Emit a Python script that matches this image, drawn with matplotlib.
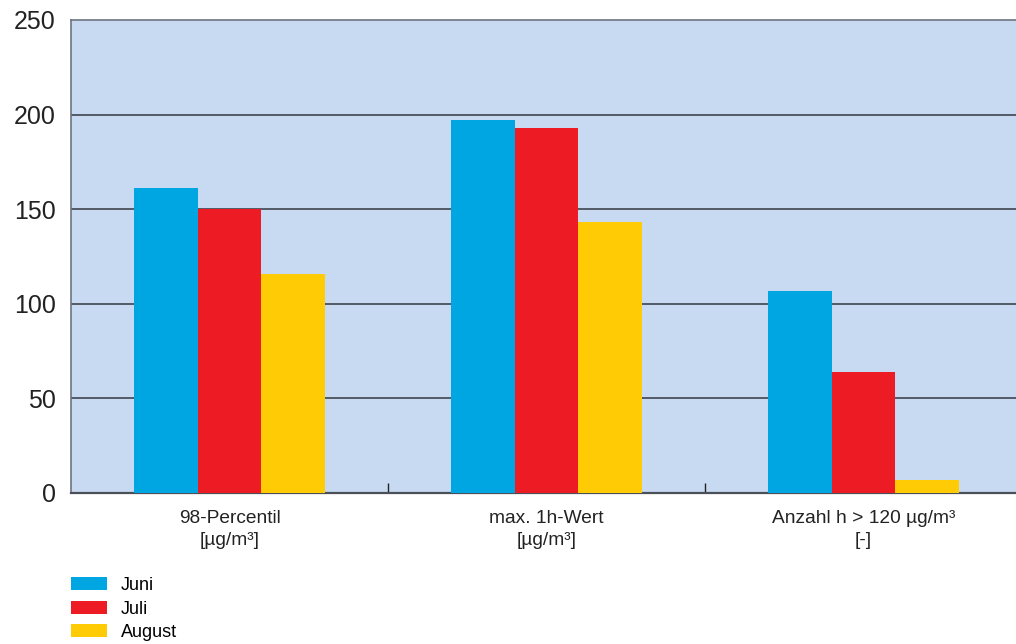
import matplotlib
matplotlib.use('Agg')
import matplotlib.pyplot as plt
import numpy as np

categories = ['98-Percentil\n[µg/m³]', 'max. 1h-Wert\n[µg/m³]', 'Anzahl h > 120 µg/m³\n[-]']
months = ['Juni', 'Juli', 'August']
juni = [161, 197, 107]
juli = [150, 193, 64]
august = [116, 143, 7]
colors = ['#00A6E2', '#ED1C24', '#FFCB05']

plt.rcParams['font.family'] = ['Liberation Sans', 'DejaVu Sans']

fig = plt.figure(figsize=(10.16, 6.44), dpi=100)
ax = fig.add_axes([0.0699, 0.2345, 0.936, 0.7345])
ax.set_facecolor('#C8DAF1')

x = np.arange(len(categories))
w = 0.2
for i, (vals, name) in enumerate(zip([juni, juli, august], months)):
    ax.bar(x + (i - 1) * w, vals, width=w, color=colors[i], label=name, zorder=3)

ax.set_xlim(-0.5, 2.5)
ax.set_ylim(0, 250)
ax.set_yticks([0, 50, 100, 150, 200, 250])
ax.tick_params(axis='y', length=0, pad=11, labelsize=18, labelcolor='#222222')
ax.set_xticks(x)
ax.set_xticklabels(categories, fontsize=13.8, color='#222222', linespacing=1.4)
ax.tick_params(axis='x', length=0, pad=12)
ax.set_xticks([0.5, 1.5], minor=True)
ax.tick_params(axis='x', which='minor', direction='in', length=7, width=1, color='#222222')

for yv in [50, 100, 150, 200]:
    ax.axhline(yv, color='#40454f', lw=1.2, zorder=1)

for side in ['left', 'top']:
    ax.spines[side].set_color('#6e7480')
    ax.spines[side].set_linewidth(1.2)
ax.spines['bottom'].set_color('#4a4f58')
ax.spines['bottom'].set_linewidth(1.6)
ax.spines['right'].set_visible(False)

handles, labels = ax.get_legend_handles_labels()
fig.legend(handles, labels, loc='upper left', bbox_to_anchor=(0.0699, 0.104),
           frameon=False, fontsize=13, handlelength=2.0, handleheight=0.7,
           labelspacing=0.36, handletextpad=0.75, borderpad=0, borderaxespad=0)

fig.savefig('out.png', dpi=100)
